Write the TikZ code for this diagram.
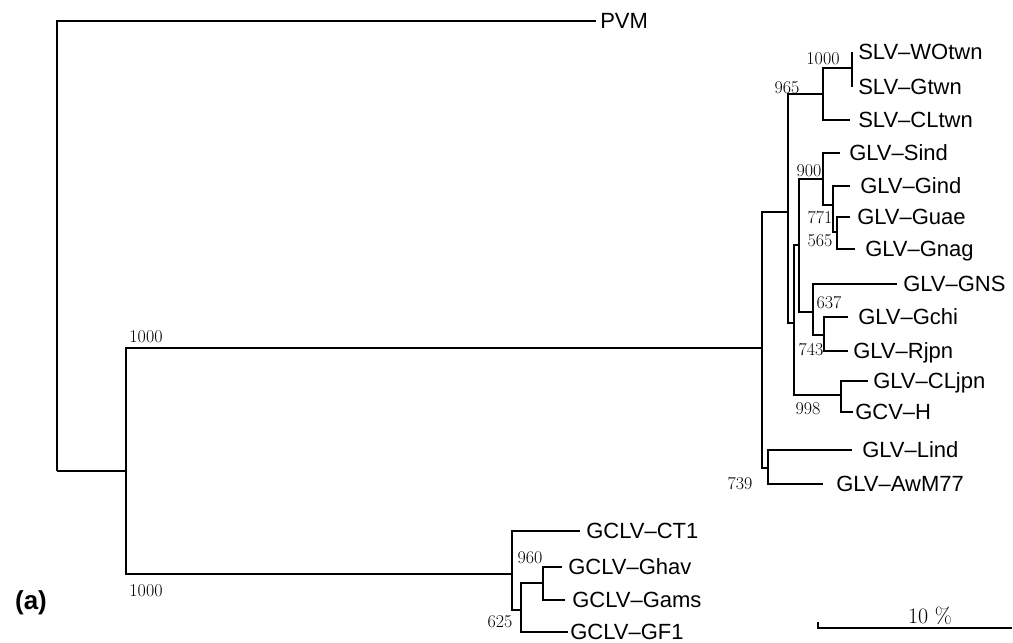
\documentclass[tikz,border=0pt]{standalone}
\usepackage{fontspec}
\setsansfont{Liberation Sans}
\begin{document}
\begin{tikzpicture}[x=1pt,y=-1pt,line width=2.5pt,
    leaf/.style={anchor=west,inner xsep=5pt,inner ysep=0pt,text depth=0pt,font=\sffamily\fontsize{22}{22}\selectfont},
    boot/.style={inner sep=0pt,font=\fontsize{18}{18}\selectfont}]
\useasboundingbox (0,0) rectangle (1013,643);
% internal nodes
\coordinate (root) at (57,471);
\coordinate (n1) at (126,471);
\coordinate (glv) at (762,348);
\coordinate (b) at (788,212);
\coordinate (c) at (823,94);
\coordinate (n1000) at (852,68);
\coordinate (d) at (794,323);
\coordinate (e) at (799,245);
\coordinate (n900) at (823,179);
\coordinate (f) at (833,205);
\coordinate (g) at (837,232);
\coordinate (n637) at (813,312);
\coordinate (n743) at (824,335);
\coordinate (n998) at (841,395);
\coordinate (n739) at (768,468);
\coordinate (gclv) at (512,574);
\coordinate (n625) at (521,610);
\coordinate (n960) at (543,583);
% leaves
\node[leaf,inner xsep=3pt] (pvm) at (596,21) {PVM};
\node[leaf] (wotwn) at (852,52) {SLV–WOtwn};
\node[leaf] (gtwn) at (852,87) {SLV–Gtwn};
\node[leaf,inner xsep=7pt] (cltwn) at (850,120) {SLV–CLtwn};
\node[leaf,inner xsep=8pt] (sind) at (840,153) {GLV–Sind};
\node[leaf,inner xsep=9pt] (gind) at (850,186) {GLV–Gind};
\node[leaf,inner xsep=6pt] (guae) at (850,217) {GLV–Guae};
\node[leaf,inner xsep=9pt] (gnag) at (855,249) {GLV–Gnag};
\node[leaf] (gns) at (897,284) {GLV–GNS};
\node[leaf,inner xsep=9pt] (gchi) at (848,317) {GLV–Gchi};
\node[leaf,inner xsep=4pt] (rjpn) at (848,351) {GLV–Rjpn};
\node[leaf,inner xsep=4pt] (cljpn) at (868,381) {GLV–CLjpn};
\node[leaf,inner xsep=1pt] (gcvh) at (853,412) {GCV–H};
\node[leaf,inner xsep=9pt] (lind) at (852,450) {GLV–Lind};
\node[leaf,inner xsep=12pt] (awm) at (823,484) {GLV–AwM77};
\node[leaf] (ct1) at (580,531) {GCLV–CT1};
\node[leaf] (ghav) at (562,567) {GCLV–Ghav};
\node[leaf,inner xsep=6pt] (gams) at (565,600) {GCLV–Gams};
\node[leaf,inner xsep=1pt] (gf1) at (568,632) {GCLV–GF1};
% branches
\draw (root) |- (pvm.west);
\draw (root) -- (n1);
\draw (n1) |- (glv);
\draw (n1) |- (gclv);
\draw (glv) |- (b);
\draw (glv) |- (n739);
\draw (b) |- (c);
\draw (b) |- (d);
\draw (c) |- (n1000);
\draw (c) |- (cltwn.west);
\draw (n1000) |- (wotwn.west);
\draw (n1000) |- (gtwn.west);
\draw (d) |- (e);
\draw (d) |- (n998);
\draw (e) |- (n900);
\draw (e) |- (n637);
\draw (n900) |- (sind.west);
\draw (n900) |- (f);
\draw (f) |- (gind.west);
\draw (f) |- (g);
\draw (g) |- (guae.west);
\draw (g) |- (gnag.west);
\draw (n637) |- (gns.west);
\draw (n637) |- (n743);
\draw (n743) |- (gchi.west);
\draw (n743) |- (rjpn.west);
\draw (n998) |- (cljpn.west);
\draw (n998) |- (gcvh.west);
\draw (n739) |- (lind.west);
\draw (n739) |- (awm.west);
\draw (gclv) |- (ct1.west);
\draw (gclv) |- (n625);
\draw (n625) |- (n960);
\draw (n625) |- (gf1.west);
\draw (n960) |- (ghav.west);
\draw (n960) |- (gams.west);
% bootstrap values
\node[boot] (bs1) at (146,337) {1000};
\node[boot] (bs2) at (146,591) {1000};
\node[boot] (bs3) at (823,59) {1000};
\node[boot] (bs4) at (787,88) {965};
\node[boot] (bs5) at (809,171) {900};
\node[boot] (bs6) at (820,218) {771};
\node[boot] (bs7) at (820,241) {565};
\node[boot] (bs8) at (829,303) {637};
\node[boot] (bs9) at (811,350) {743};
\node[boot] (bs10) at (808,409) {998};
\node[boot] (bs11) at (740,484) {739};
\node[boot] (bs12) at (530,558) {960};
\node[boot] (bs13) at (500,622) {625};
% scale bar
\coordinate (sb1) at (818,628);
\coordinate (sb2) at (1012,628);
\draw (sb1) ++(0,-6) coordinate (sbt) (sbt) |- (sb2);
\node[inner sep=0pt,font=\fontsize{22}{22}\selectfont] (sblab) at (930,616) {10 \%};
\node[inner sep=0pt,font=\sffamily\bfseries\fontsize{26}{26}\selectfont] (panel) at (31,603) {(a)};
\end{tikzpicture}
\end{document}
